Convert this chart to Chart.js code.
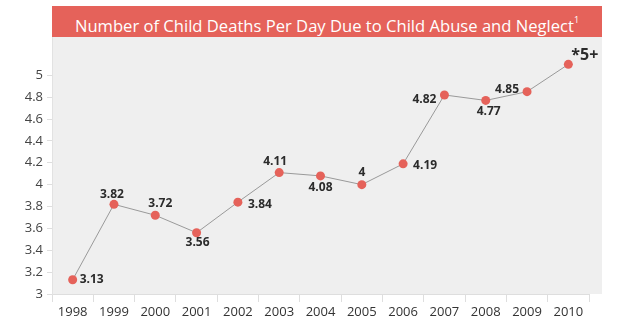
<!DOCTYPE html>
<html>
<head>
<meta charset="utf-8">
<script src="https://cdn.jsdelivr.net/npm/chart.js@4/dist/chart.umd.min.js"></script>
<style>
  html, body { margin: 0; padding: 0; background: #fff; }
  #wrap { position: relative; width: 628px; height: 327px; }
  #title {
    position: absolute; left: 52px; top: 6px; width: 550px; height: 31px;
    background: #e5625a; color: #fff; text-align: center;
    font: 16.6px "Open Sans", sans-serif; line-height: 31px;
  }
  #title sup { font-size: 9px; position: relative; top: -2px; }
</style>
</head>
<body>
<div id="wrap">
  <canvas id="chart" width="628" height="327"></canvas>
  <div id="title">Number of Child Deaths Per Day Due to Child Abuse and Neglect<sup>1</sup></div>
</div>
<script>
// data
const years = ['1998', '1999', '2000', '2001', '2002', '2003', '2004', '2005', '2006', '2007', '2008', '2009', '2010'];
const deathsPerDay = [3.13, 3.82, 3.72, 3.56, 3.84, 4.11, 4.08, 4, 4.19, 4.82, 4.77, 4.85, 5.1];
const pointLabels = ['3.13', '3.82', '3.72', '3.56', '3.84', '4.11', '4.08', '4', '4.19', '4.82', '4.77', '4.85', '*5+'];

// where each value label sits relative to its point: [dx, dy, align]
const labelPlacement = [
  [7, 0, 'left'], [-2, -10, 'center'], [5, -12, 'center'], [1, 10, 'center'],
  [10, 2, 'left'], [-4, -11, 'center'], [0, 12, 'center'], [0, -12, 'center'],
  [10, 2, 'left'], [-8, 5, 'right'], [3, 11, 'center'], [-8, -2, 'right'],
  [3, -9, 'left']
];

const red = '#e5625a';

// grey plot background, runs a little past the last category
const plotBackground = {
  id: 'plotBackground',
  beforeDraw(chart) {
    const { ctx, chartArea } = chart;
    ctx.save();
    ctx.fillStyle = '#efefef';
    ctx.fillRect(chartArea.left, chartArea.top, chartArea.right - chartArea.left + 13, chartArea.bottom - chartArea.top);
    ctx.restore();
  }
};

// value labels next to the points
const valueLabels = {
  id: 'valueLabels',
  afterDatasetsDraw(chart) {
    const { ctx } = chart;
    const meta = chart.getDatasetMeta(0);
    ctx.save();
    ctx.fillStyle = '#2b2b2b';
    ctx.textBaseline = 'middle';
    meta.data.forEach((pt, i) => {
      const [dx, dy, align] = labelPlacement[i];
      const last = i === meta.data.length - 1;
      ctx.font = last ? 'bold 16px "Open Sans", sans-serif' : 'bold 12px "Open Sans", sans-serif';
      ctx.textAlign = align;
      ctx.fillText(pointLabels[i], pt.x + dx, pt.y + dy);
    });
    ctx.restore();
  }
};

new Chart(document.getElementById('chart'), {
  type: 'line',
  data: {
    labels: years,
    datasets: [{
      data: deathsPerDay,
      borderColor: '#9a9a9a',
      borderWidth: 1,
      pointRadius: 4.5,
      pointBackgroundColor: red,
      pointBorderColor: red,
      pointBorderWidth: 0,
      tension: 0
    }]
  },
  options: {
    responsive: false,
    animation: false,
    layout: { padding: { top: 37, right: 39, left: 0, bottom: 0 } },
    plugins: {
      legend: { display: false },
      tooltip: { enabled: false }
    },
    scales: {
      x: {
        offset: true,
        grid: { offset: true, drawOnChartArea: false, tickLength: 8, color: '#dedede' },
        border: { color: '#dedede' },
        ticks: { color: '#333', padding: 2, font: { family: 'Open Sans', size: 13 } },
        afterFit(axis) { axis.height = 33; }
      },
      y: {
        min: 3,
        max: 5.35,
        grid: { drawOnChartArea: false, tickLength: 5, color: '#dedede' },
        border: { color: '#e2e2e2' },
        ticks: {
          stepSize: 0.2, color: '#444', padding: 4, font: { family: 'Open Sans', size: 13 },
          callback: v => String(+v.toFixed(1))
        },
        afterBuildTicks(axis) { axis.ticks = axis.ticks.filter(t => t.value <= 5.0001); },
        afterFit(axis) { axis.width = 52; }
      }
    }
  },
  plugins: [plotBackground, valueLabels]
});
</script>
</body>
</html>
